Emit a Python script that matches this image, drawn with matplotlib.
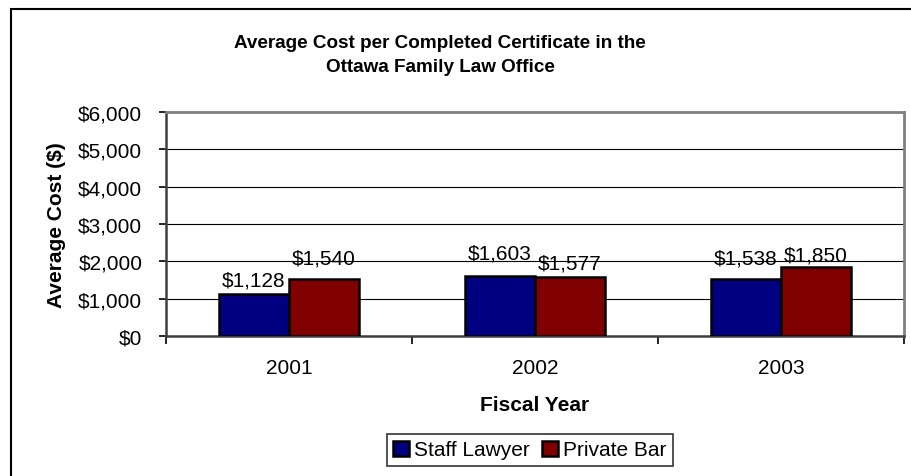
import matplotlib
matplotlib.use("Agg")
import matplotlib.pyplot as plt
from matplotlib.patches import Rectangle
from matplotlib.ticker import FuncFormatter, MultipleLocator
import numpy as np

years = ["2001", "2002", "2003"]
staff_lawyer = [1128, 1603, 1538]
private_bar = [1540, 1577, 1850]
series_names = ["Staff Lawyer", "Private Bar"]
colors = ["#000080", "#800000"]

# extra vertical nudges (points) for the value labels, as placed in the original
label_nudge = [[0, 7, 5], [5, 0, -1.5]]

plt.rcParams['font.family'] = ['Liberation Sans', 'DejaVu Sans']

W, H = 912, 477
fig = plt.figure(figsize=(W / 100, H / 100), dpi=100)

# outer chart frame (only top and left edges visible)
fig.patches.append(Rectangle((11 / W, -0.1), 1.2, 1 - 10 / H + 0.1, transform=fig.transFigure,
                             fill=False, edgecolor='black', linewidth=1.5, zorder=0))

ax = fig.add_axes([166 / W, 1 - 337 / H, (904 - 166) / W, (337 - 113) / H])

x = np.arange(len(years))
bw = 0.285
for i, (vals, name, col) in enumerate(zip([staff_lawyer, private_bar], series_names, colors)):
    pos = x + (i - 0.5) * bw
    bars = ax.bar(pos, vals, bw, color=col, edgecolor='black', linewidth=1.8, zorder=3, label=name)
    for j, (b, v) in enumerate(zip(bars, vals)):
        ax.annotate(f"${v:,}", (b.get_x() + b.get_width() / 2, v), xytext=(0, 3 + label_nudge[i][j]),
                    textcoords='offset points', ha='center', va='bottom', fontsize=15, zorder=4)

ax.set_xlim(-0.5, len(years) - 0.5)
ax.set_ylim(0, 6000)
ax.yaxis.set_major_locator(MultipleLocator(1000))
ax.yaxis.set_major_formatter(FuncFormatter(lambda v, p: f"${v:,.0f}"))
ax.grid(axis='y', color='black', linewidth=0.8, zorder=1)

ax.set_xticks(x)
ax.set_xticklabels(years)
ax.set_xticks(np.arange(-0.5, len(years)), minor=True)
ax.tick_params(axis='x', which='major', length=0, pad=16, labelsize=15)
ax.tick_params(axis='x', which='minor', length=6, width=1.2, direction='out')
ax.tick_params(axis='y', length=5, width=1.2, direction='out', pad=12, labelsize=15)

for s in ['top', 'right']:
    ax.spines[s].set_color('#808080')
    ax.spines[s].set_linewidth(2)
for s in ['left', 'bottom']:
    ax.spines[s].set_color('#404040')
    ax.spines[s].set_linewidth(1.8)

ax.set_xlabel("Fiscal Year", fontsize=15, fontweight='bold')
ax.xaxis.set_label_coords(0.5, -(406 - 337) / (337 - 113))
ax.xaxis.label.set_va('center')
ax.set_ylabel("Average Cost ($)", fontsize=15, fontweight='bold')
ax.yaxis.set_label_coords(-(166 - 56) / (904 - 166), 0.5)
ax.yaxis.label.set_va('center')

fig.text(440 / W, 1 - 55.5 / H, "Average Cost per Completed Certificate in the\nOttawa Family Law Office",
         ha='center', va='center', fontsize=13.6, fontweight='bold', linespacing=1.5)

leg = ax.legend(loc='center', bbox_to_anchor=(530 / W, 1 - 451 / H), bbox_transform=fig.transFigure,
                ncol=2, frameon=True, fancybox=False, shadow=False, fontsize=15,
                handlelength=0.75, handleheight=0.75, handletextpad=0.25, columnspacing=0.6,
                borderpad=0.3, edgecolor='black', borderaxespad=0)
leg.get_frame().set_linewidth(1.2)

fig.savefig("out.png", dpi=100)
